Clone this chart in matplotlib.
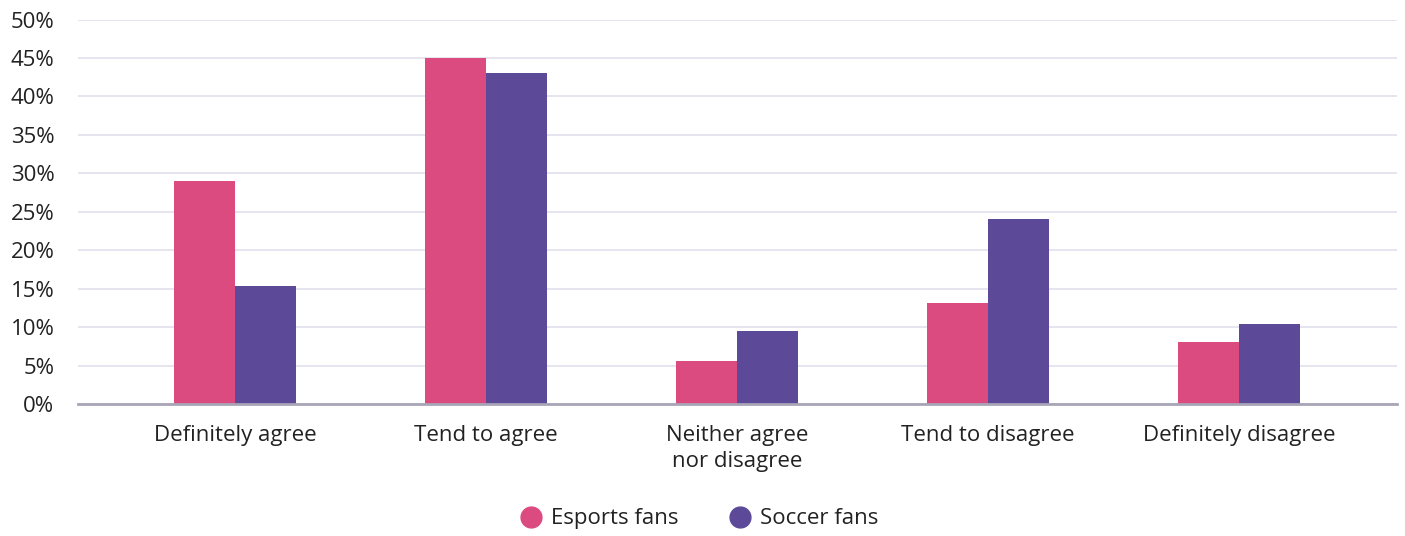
import numpy as np
import matplotlib.pyplot as plt
from matplotlib.lines import Line2D

# survey answers
categories = ["Definitely agree", "Tend to agree", "Neither agree\nnor disagree",
              "Tend to disagree", "Definitely disagree"]
esports = [29, 45, 5.6, 13.1, 8.1]
soccer = [15.3, 43.1, 9.5, 24.1, 10.4]
yticks = list(range(0, 51, 5))

pink = "#DC4B80"
purple = "#5C4A99"

plt.rcParams['font.family'] = ['Open Sans', 'DejaVu Sans']

fig = plt.figure(figsize=(14.05, 5.36), dpi=100)
ax = fig.add_axes([0.0555, 0.2463, 0.9388, 0.7173])

x = np.arange(len(categories))
w = 0.242
ax.bar(x - w / 2, esports, width=w, color=pink, zorder=3)
ax.bar(x + w / 2, soccer, width=w, color=purple, zorder=3)

ax.set_xlim(-0.625, 4.63)
ax.set_ylim(0, 50)
ax.set_yticks(yticks)
ax.set_yticklabels([f"{t}%" for t in yticks], fontsize=16, color="#222222")
ax.set_xticks(x)
ax.set_xticklabels(categories, fontsize=16, color="#222222", linespacing=1.3)
ax.tick_params(axis='both', length=0)
ax.tick_params(axis='y', pad=17)
ax.tick_params(axis='x', pad=15)

ax.grid(axis='y', color="#E2E0EC", linewidth=1.2, zorder=0)
for s in ['top', 'right', 'left']:
    ax.spines[s].set_visible(False)
ax.spines['bottom'].set_color("#A8A5B6")
ax.spines['bottom'].set_linewidth(2)
ax.spines['bottom'].set_zorder(4)

handles = [Line2D([], [], marker='o', linestyle='', markersize=15, color=pink),
           Line2D([], [], marker='o', linestyle='', markersize=15, color=purple)]
fig.legend(handles, ["Esports fans", "Soccer fans"], loc='center',
           bbox_to_anchor=(0.4935, 0.032), ncol=2, frameon=False, fontsize=16,
           handletextpad=-0.1, columnspacing=1.75, labelcolor="#222222")

fig.savefig("out.png", dpi=100)
